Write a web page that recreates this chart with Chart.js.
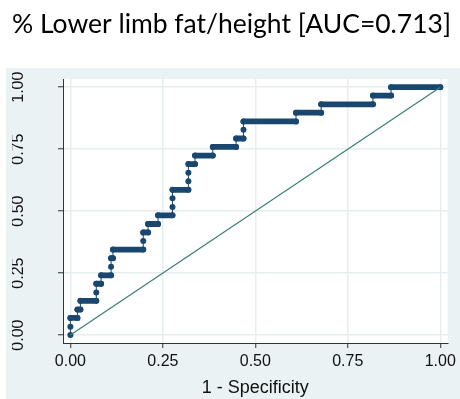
<!DOCTYPE html>
<html>
<head>
<meta charset="utf-8">
<title>ROC curve</title>
<script src="https://cdn.jsdelivr.net/npm/chart.js@4"></script>
<style>
  html, body { margin: 0; padding: 0; background: #ffffff; }
  canvas { display: block; }
</style>
</head>
<body>
<canvas id="roc-chart" width="460" height="399"></canvas>
<script>
// ROC steps: one entry per sensitivity level, with the 1-specificity
// range covered at that level
const sensitivity = [0, 0.034, 0.069, 0.103, 0.138, 0.172, 0.207, 0.241, 0.276, 0.310,
  0.345, 0.379, 0.414, 0.448, 0.483, 0.517, 0.552, 0.586, 0.621, 0.655,
  0.690, 0.724, 0.759, 0.793, 0.828, 0.862, 0.897, 0.931, 0.966, 1.000];
const fprFrom = [0, 0, 0, 0.019, 0.027, 0.070, 0.070, 0.083, 0.110, 0.110,
  0.115, 0.197, 0.197, 0.210, 0.237, 0.276, 0.276, 0.276, 0.319, 0.319,
  0.319, 0.337, 0.385, 0.448, 0.468, 0.468, 0.610, 0.678, 0.818, 0.867];
const fprTo = [0, 0, 0.019, 0.027, 0.070, 0.070, 0.083, 0.110, 0.110, 0.115,
  0.197, 0.197, 0.210, 0.237, 0.276, 0.276, 0.276, 0.319, 0.319, 0.319,
  0.337, 0.385, 0.448, 0.468, 0.468, 0.610, 0.678, 0.818, 0.867, 1.000];

const refLine = [[0, 0], [1, 1]];

const tickValues = [0, 0.25, 0.5, 0.75, 1];
const tickLabels = ['0.00', '0.25', '0.50', '0.75', '1.00'];

const titleText = '% Lower limb fat/height [AUC=0.713]';
const xTitle = '1 - Specificity';

const navy = '#1a476f';
const teal = '#3b7f72';
const panelBg = '#eaf2f3';
const gridColor = '#e6eef0';
const axisFont = "'Liberation Sans', Arial, sans-serif";

// curve vertices: start and end of every level
const rocPoints = [];
sensitivity.forEach((tpr, i) => {
  rocPoints.push({ x: fprFrom[i], y: tpr });
  if (fprTo[i] > fprFrom[i]) rocPoints.push({ x: fprTo[i], y: tpr });
});

// light outer panel + white plot region
const panelPlugin = {
  id: 'panel',
  beforeDraw(chart) {
    const { ctx, chartArea: a, width, height } = chart;
    ctx.save();
    ctx.fillStyle = panelBg;
    ctx.fillRect(6, 68, width - 6, height - 68);
    ctx.fillStyle = '#ffffff';
    ctx.fillRect(a.left, a.top, a.right - a.left, a.bottom - a.top);
    ctx.restore();
  }
};

function setTicks(scale) {
  scale.ticks = tickValues.map(v => ({ value: v }));
}

function axis(extra) {
  return Object.assign({
    type: 'linear',
    afterBuildTicks: setTicks,
    grid: {
      color: gridColor,
      lineWidth: 1.5,
      tickColor: '#333333',
      tickWidth: 1,
      tickLength: 5
    },
    border: { color: '#333333', width: 1 }
  }, extra);
}

new Chart(document.getElementById('roc-chart'), {
  type: 'scatter',
  data: {
    datasets: [
      {
        // reference diagonal
        data: refLine.map(p => ({ x: p[0], y: p[1] })),
        showLine: true,
        borderColor: teal,
        borderWidth: 1.2,
        pointRadius: 0,
        order: 0
      },
      {
        // cutoff markers joined by a thin line
        data: rocPoints,
        showLine: true,
        borderColor: navy,
        borderWidth: 1,
        pointRadius: 3,
        pointBackgroundColor: navy,
        pointBorderWidth: 0,
        order: 1
      },
      {
        // dense runs of markers along each level
        data: rocPoints,
        showLine: true,
        borderColor: navy,
        borderWidth: 5.8,
        borderCapStyle: 'round',
        pointRadius: 0,
        segment: {
          borderColor: c => c.p0.parsed.y === c.p1.parsed.y ? navy : 'rgba(0,0,0,0)'
        },
        order: 2
      }
    ]
  },
  options: {
    responsive: false,
    devicePixelRatio: 1,
    animation: false,
    layout: { padding: { left: 12, right: 9, top: 0, bottom: 0 } },
    plugins: {
      legend: { display: false },
      tooltip: { enabled: false },
      title: {
        display: true,
        text: titleText,
        color: '#000000',
        font: { family: "Lato, 'Open Sans', sans-serif", size: 26.5, weight: 'normal', lineHeight: 1.2 },
        padding: { top: 9, bottom: 38.2 }
      }
    },
    scales: {
      x: axis({
        min: -0.02,
        max: 1.02,
        afterFit: s => { s.height = 56; },
        ticks: {
          autoSkip: false,
          maxRotation: 0,
          minRotation: 0,
          padding: 4,
          color: '#111111',
          font: { family: axisFont, size: 16 },
          callback: (v, i) => tickLabels[i]
        },
        title: {
          display: true,
          text: xTitle,
          color: '#111111',
          font: { family: axisFont, size: 18, lineHeight: 1.2 },
          padding: { top: 0, bottom: 0 }
        }
      }),
      y: axis({
        min: -0.032,
        max: 1.033,
        afterFit: s => { s.width = 51; },
        ticks: {
          autoSkip: false,
          minRotation: 90,
          maxRotation: 90,
          crossAlign: 'center',
          padding: 24,
          color: '#111111',
          font: { family: axisFont, size: 16 },
          callback: (v, i) => tickLabels[i]
        }
      })
    }
  },
  plugins: [panelPlugin]
});
</script>
</body>
</html>
